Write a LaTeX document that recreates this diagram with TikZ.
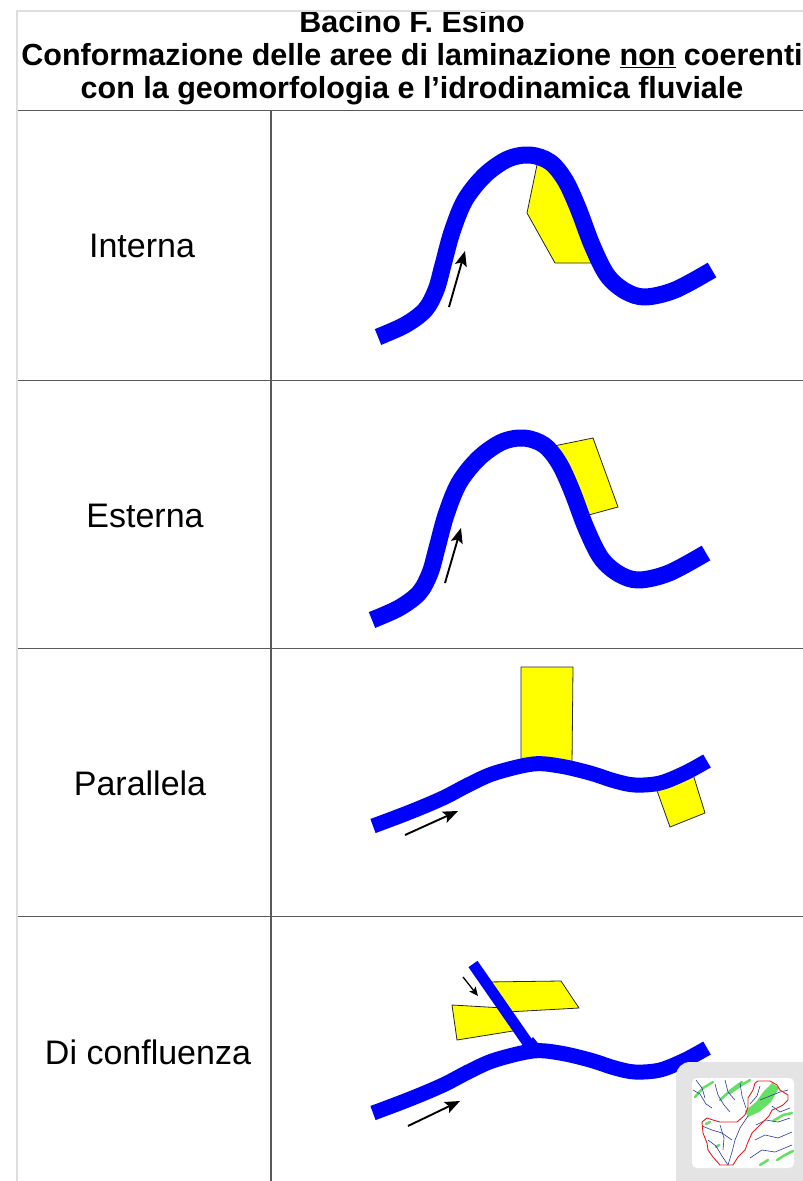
\documentclass[tikz,border=0pt]{standalone}
\usepackage{fontspec}
\setmainfont{Liberation Sans}
\usetikzlibrary{arrows.meta}
\definecolor{river}{RGB}{0,0,255}
\definecolor{basin}{RGB}{255,255,0}
\definecolor{rulegray}{RGB}{90,90,90}
\definecolor{framegray}{RGB}{222,222,222}
\definecolor{logogray}{RGB}{228,228,228}
\definecolor{mapgreen}{RGB}{100,225,100}
\definecolor{mapblue}{RGB}{40,60,150}
\definecolor{mapred}{RGB}{225,30,30}
\begin{document}
\begin{tikzpicture}[x=1pt,y=-1pt,
  riverline/.style={draw=river, line width=#1, line cap=butt, line join=round},
  riverline/.default=17pt,
  area/.style={fill=basin, draw=black!85, line width=0.8pt, line join=miter},
  flow/.style={line width=1.9pt, -{Stealth[length=15pt,width=12pt,inset=3pt]}},
  smallflow/.style={line width=1.3pt, -{Stealth[length=9pt,width=8pt,inset=2pt]}},
  rowlabel/.style={font=\fontsize{34}{40}\selectfont, anchor=base, inner sep=0pt},
  headline/.style={font=\fontsize{30.5}{36}\selectfont\bfseries, anchor=base, inner sep=0pt},
  gridline/.style={draw=rulegray, line width=1.4pt},
  archriver/.pic={
    \draw[riverline=17pt] plot[smooth,tension=0.55] coordinates{
      (378,337) (405,325) (425,310) (436,290) (443,265) (452,232) (465,200)
      (485,175) (508,159) (530,155) (550,162) (565,180) (578,208) (592,245)
      (607,275) (625,291) (645,297) (675,290) (712,270)};
  },
  flatriver/.pic={
    \draw[riverline=15pt] plot[smooth,tension=0.55] coordinates{
      (373,826) (410,812) (443,798) (470,784) (495,773) (533,764) (560,766)
      (590,773) (615,781) (635,785) (660,783) (685,773) (707,761)};
  }]
\useasboundingbox (0,0) rectangle (803,1181);
\fill[white] (0,0) rectangle (803,1181);

% outer frame and table grid
\draw[framegray, line width=2pt] (17,1181) -- (17,11) -- (803,11);
\draw[gridline] (18,110.5) -- (803,110.5);
\draw[gridline] (18,380.5) -- (803,380.5);
\draw[gridline] (18,648.5) -- (803,648.5);
\draw[gridline] (18,916.5) -- (803,916.5);
\draw[gridline] (271,110.5) -- (271,1181);

% heading
\begin{scope}
  \clip (0,12) rectangle (803,110);
  \node[headline] (t1) at (412,32) {Bacino F. Esino};
  \node[headline] (t2) at (412,65.5) {Conformazione delle aree di laminazione \underline{non} coerenti};
  \node[headline] (t3) at (412,98.5) {con la geomorfologia e l’idrodinamica fluviale};
\end{scope}

% row labels
\node[rowlabel] (r1) at (142,257.5) {Interna};
\node[rowlabel] (r2) at (145,527) {Esterna};
\node[rowlabel] (r3) at (140,795) {Parallela};
\node[rowlabel] (r4) at (148,1064) {Di confluenza};

% Interna: area inside the bend
\fill[area] (538,160) -- (527,213) -- (555,263) -- (596,263) -- (580,205) -- (560,170) -- cycle;
\pic at (0,0) {archriver};
\coordinate (inA0) at (449,307);
\coordinate (inA1) at (465,251);
\draw[flow] (inA0) -- (inA1);

% Esterna: area outside the bend
\fill[area] (549,447) -- (593,438) -- (618,507) -- (585,516) -- cycle;
\pic at (-6,283) {archriver};
\coordinate (esA0) at (445,583);
\coordinate (esA1) at (461,528);
\draw[flow] (esA0) -- (esA1);

% Parallela: areas along the channel
\fill[area] (521,667) -- (573,667) -- (572,764) -- (521,760) -- cycle;
\fill[area] (655,785) -- (692,771) -- (705,813) -- (670,827) -- cycle;
\pic at (0,0) {flatriver};
\coordinate (paA0) at (405,835);
\coordinate (paA1) at (458,811);
\draw[flow] (paA0) -- (paA1);

% Di confluenza: areas across the tributary
\fill[area] (486,982) -- (561,981) -- (579,1008) -- (507,1012) -- cycle;
\fill[area] (452,1005) -- (504,1008) -- (519,1030) -- (457,1040) -- cycle;
\coordinate (tribTop) at (473,964);
\coordinate (tribEnd) at (532,1049);
\draw[riverline=11pt] (tribTop) -- (tribEnd);
\fill[river] (523,1047) -- (541,1047) -- (533,1037) -- cycle;
\pic at (0,287) {flatriver};
\coordinate (coA0) at (408,1126);
\coordinate (coA1) at (460,1101);
\draw[flow] (coA0) -- (coA1);
\coordinate (coB0) at (463,977);
\coordinate (coB1) at (478,996);
\draw[smallflow] (coB0) -- (coB1);

% basin map thumbnail
\fill[logogray, rounded corners=14pt] (676,1062) rectangle (830,1200);
\fill[white, rounded corners=5pt] (692,1078) rectangle (794,1168);
\begin{scope}
  \clip[rounded corners=5pt] (692,1078) rectangle (794,1168);
  \fill[mapgreen] (772,1083) -- (779,1088) -- (771,1102) -- (759,1112) -- (748,1117) -- (745,1111) -- (756,1102) -- (764,1091) -- cycle;
  \begin{scope}[mapgreen, line width=2.5pt, line cap=round]
    \draw (695,1097) -- (703,1088) -- (713,1082);
    \draw (720,1100) -- (731,1090) -- (742,1082);
    \draw (730,1093) -- (740,1086) -- (750,1080);
    \draw (773,1121) -- (783,1115) -- (792,1113);
    \draw (777,1160) -- (785,1155) -- (793,1151);
    \draw (706,1124) -- (710,1122);
    \draw (716,1147) -- (719,1145);
    \draw (760,1165) -- (768,1160);
  \end{scope}
  \begin{scope}[mapblue, line width=0.6pt]
    \draw (693,1090) -- (700,1094) -- (706,1104) -- (712,1108);
    \draw (696,1080) -- (702,1088) -- (705,1098);
    \draw (715,1084) -- (718,1095) -- (724,1105) -- (730,1112);
    \draw (725,1080) -- (728,1092) -- (735,1100);
    \draw (740,1083) -- (742,1096) -- (746,1108);
    \draw (748,1116) -- (740,1128) -- (735,1140) -- (732,1152) -- (728,1165);
    \draw (702,1126) -- (712,1130) -- (722,1133) -- (732,1140);
    \draw (708,1140) -- (716,1146) -- (722,1156) -- (728,1165);
    \draw (720,1125) -- (724,1138) -- (723,1150);
    \draw (760,1100) -- (770,1096) -- (780,1092) -- (788,1090);
    \draw (756,1125) -- (766,1120) -- (778,1122) -- (790,1118);
    \draw (755,1140) -- (765,1135) -- (778,1138) -- (792,1132);
    \draw (750,1158) -- (762,1150) -- (775,1152) -- (792,1145);
    \draw (760,1086) -- (757,1096) -- (750,1104);
    \draw (772,1106) -- (780,1112) -- (790,1108);
  \end{scope}
  \draw[mapred, line width=0.9pt, line join=round]
    (758,1081) -- (770,1081) -- (777,1085) -- (780,1090) -- (788,1095) -- (788,1100)
    -- (783,1105) -- (777,1108) -- (772,1110) -- (769,1116) -- (760,1125)
    -- (752,1133) -- (748,1142) -- (745,1150) -- (738,1157) -- (733,1165)
    -- (720,1165) -- (713,1157) -- (708,1150) -- (707,1143) -- (703,1133)
    -- (702,1122) -- (707,1118) -- (713,1120) -- (720,1122) -- (737,1122)
    -- (745,1115) -- (748,1107) -- (748,1098) -- (753,1090) -- (755,1083) -- cycle;
\end{scope}
\end{tikzpicture}
\end{document}
